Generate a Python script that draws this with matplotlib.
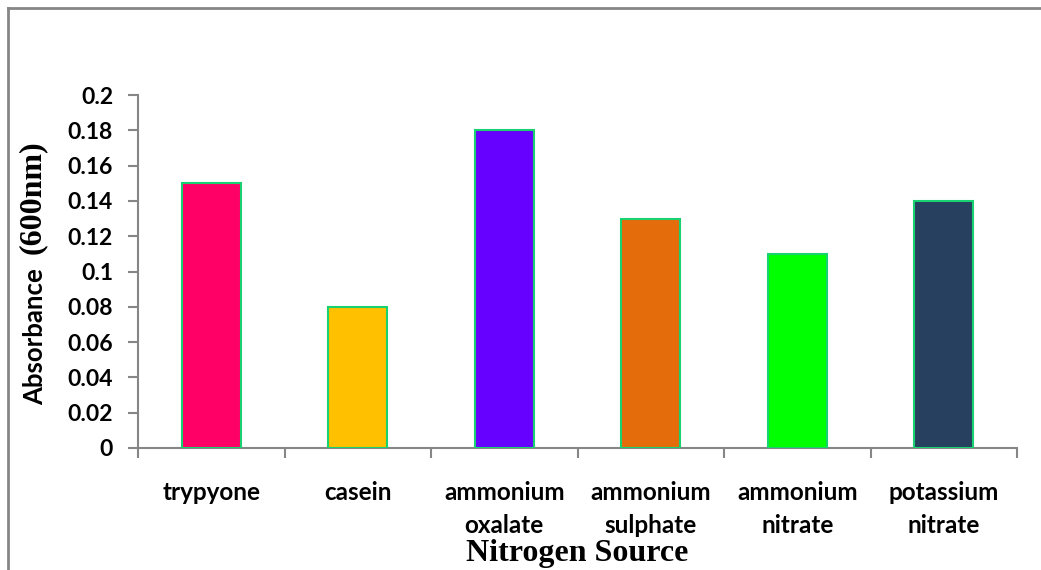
import matplotlib
matplotlib.use("Agg")
import matplotlib.pyplot as plt
from matplotlib.lines import Line2D
import numpy as np

# Nitrogen sources and measured absorbance at 600 nm
categories = ["trypyone", "casein", "ammonium\noxalate", "ammonium\nsulphate",
              "ammonium\nnitrate", "potassium\nnitrate"]
absorbance = [0.15, 0.08, 0.18, 0.13, 0.11, 0.14]
bar_colors = ["#FF0066", "#FFC000", "#6600FF", "#E46C0A", "#00FF00", "#27405F"]
y_ticks = [0, 0.02, 0.04, 0.06, 0.08, 0.1, 0.12, 0.14, 0.16, 0.18, 0.2]
y_tick_labels = ["0", "0.02", "0.04", "0.06", "0.08", "0.1", "0.12", "0.14",
                 "0.16", "0.18", "0.2"]

W, H = 1041, 570
fig = plt.figure(figsize=(W / 100, H / 100), dpi=100)
ax = fig.add_axes([138 / W, 1 - 448 / H, (1017 - 138) / W, (448 - 95) / H])

sans = "Lato"
serif = "Liberation Serif"
grey = "#868686"

x = np.arange(len(categories))
ax.bar(x, absorbance, width=0.4, color=bar_colors, edgecolor="#19D170",
       linewidth=1.5, zorder=3)

ax.set_xlim(-0.5, len(categories) - 0.5)
ax.set_ylim(0, 0.2)

ax.set_yticks(y_ticks)
ax.set_yticklabels(y_tick_labels, fontfamily=sans, fontweight="bold", fontsize=16.5)
ax.tick_params(axis="y", direction="out", length=7, width=1.5, color=grey, pad=11)

# category boundaries carry the tick marks; labels sit at the bar centres
ax.set_xticks(np.arange(len(categories) + 1) - 0.5)
ax.set_xticklabels([])
ax.tick_params(axis="x", direction="out", length=7, width=1.5, color=grey)
ax.set_xticks(x, minor=True)
ax.set_xticklabels(categories, minor=True, fontfamily=sans, fontweight="bold",
                   fontsize=17.5, linespacing=1.5)
ax.tick_params(axis="x", which="minor", length=0, pad=24)

for side in ("top", "right"):
    ax.spines[side].set_visible(False)
for side in ("left", "bottom"):
    ax.spines[side].set_color(grey)
    ax.spines[side].set_linewidth(1.5)

# axis titles
fig.text(577 / W, 1 - 553 / H, "Nitrogen Source", fontfamily=serif,
         fontweight="bold", fontsize=23, ha="center", va="center")
fig.text(35 / W, 1 - 337 / H, "Absorbance", fontfamily=sans, fontweight="bold",
         fontsize=18.5, rotation=90, ha="center", va="center")
fig.text(32 / W, 1 - 197 / H, "(600nm)", fontfamily=serif, fontweight="bold",
         fontsize=23, rotation=90, ha="center", va="center")

# outer frame of the chart area
fig.add_artist(Line2D([7.5 / W, 7.5 / W], [0, 1 - 7.5 / H], transform=fig.transFigure,
                      color=grey, linewidth=2))
fig.add_artist(Line2D([7.5 / W, 1], [1 - 7.5 / H, 1 - 7.5 / H], transform=fig.transFigure,
                      color=grey, linewidth=2))

fig.savefig("out.png", dpi=100, facecolor="white")
